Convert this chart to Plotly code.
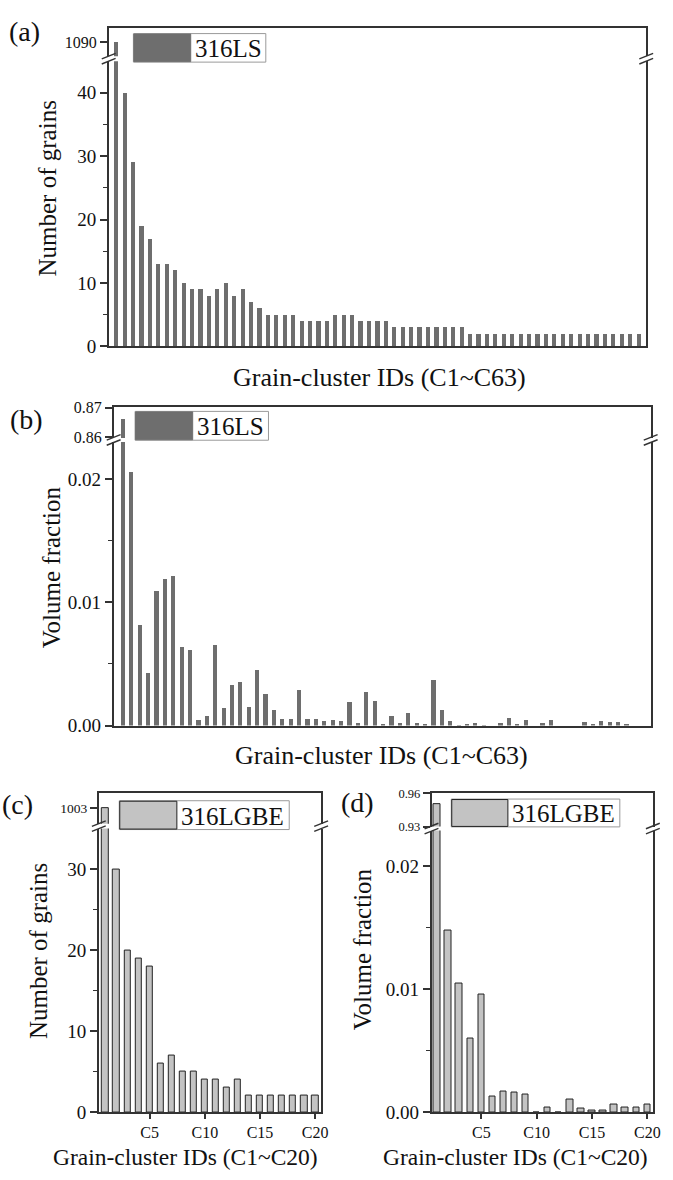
import plotly.graph_objects as go

W, H = 673, 1180

# ---------------- data ----------------
cluster_ls = list(range(1, 64))      # C1 ~ C63 (316LS)
grains_ls = [1090, 40, 29, 19, 17, 13, 13, 12, 10, 9, 9, 8, 9, 10, 8, 9, 7, 6,
             5, 5, 5, 5, 4, 4, 4, 4, 5, 5, 5, 4, 4, 4, 4,
             3, 3, 3, 3, 3, 3, 3, 3, 3,
             2, 2, 2, 2, 2, 2, 2, 2, 2, 2, 2, 2, 2, 2, 2, 2, 2, 2, 2, 2, 2]
vol_ls = [0.866, 0.0206, 0.0082, 0.0043, 0.0109, 0.0119, 0.0121, 0.0064, 0.0061, 0.00045,
          0.0008, 0.0065, 0.0014, 0.0033, 0.0035, 0.0015, 0.0045, 0.0026, 0.0013, 0.0005,
          0.0005, 0.0029, 0.0005, 0.0005, 0.00034, 0.00045, 0.0004, 0.0019, 0.0002, 0.0027,
          0.0020, 0.0001, 0.0008, 0.00024, 0.00105, 0.0002, 0.00008, 0.0037, 0.0013, 0.00035,
          0.00003, 0.00008, 0.0002, 0.00005, 0.0, 0.0002, 0.00064, 0.00008, 0.00048, 0.0,
          0.0002, 0.00042, 0.0, 0.0, 0.0, 0.00032, 0.0001, 0.00035, 0.00032, 0.00032,
          0.00008, 0.0, 0.0]

cluster_lgbe = list(range(1, 21))    # C1 ~ C20 (316LGBE)
grains_lgbe = [1003, 30, 20, 19, 18, 6, 7, 5, 5, 4, 4, 3, 4, 2, 2, 2, 2, 2, 2, 2]
vol_lgbe = [0.95, 0.0148, 0.0105, 0.0060, 0.0096, 0.0013, 0.0017, 0.0016, 0.0014, 0.0,
            0.0004, 0.0, 0.0010, 0.0003, 0.00013, 0.0001, 0.0006, 0.00042, 0.00037, 0.0006]

x_tickvals_lgbe = [5, 10, 15, 20]
x_ticktext_lgbe = ["C5", "C10", "C15", "C20"]

FONT = "Liberation Serif, Times New Roman, serif"
AX = "#333333"
DARK_BAR = "#6e6e6e"
LIGHT_BAR = "#c3c3c3"


def px_x(v):
    return v / W


def px_y(v):
    return 1 - v / H


def xdom(a, b):
    return [a / W, b / W]


def ydom(top, bottom):
    return [1 - bottom / H, 1 - top / H]


panels = [
    dict(label="(a)", x=cluster_ls, y=grains_ls, color=DARK_BAR, outline=0,
         xpx=(110, 654), up=(20, 49), lo=(54, 344), xr=[0.14, 63.94],
         upr=[1081, 1099], upt=[1090], upfmt="d", upfs=16,
         lor=[0, 45], lot=[0, 10, 20, 30, 40], lominor=[5, 15, 25, 35], lofmt="d",
         width=0.5, xticks=False,
         ytitle="Number of grains", xtitle="Grain-cluster IDs (C1~C63)",
         ytpos=(48, 183), xtpos=(384, 376), xtanchor="middle", xtfs=26, lblpos=(9, 24),
         leg=(135, 269, 26, 55, 193), legtext="316LS", legborder=False),
    dict(label="(b)", x=cluster_ls, y=vol_ls, color=DARK_BAR, outline=0,
         xpx=(115, 658.5), up=(406, 437), lo=(441, 729.3), xr=[-0.06, 63.93],
         upr=[0.8597, 0.87005], upt=[0.86, 0.87], upfmt=".2f", upfs=16,
         lor=[0, 0.023], lot=[0, 0.01, 0.02], lominor=[0.005, 0.015], lofmt=".2f",
         width=0.5, xticks=False,
         ytitle="Volume fraction", xtitle="Grain-cluster IDs (C1~C63)",
         ytpos=(52, 568), xtpos=(386, 760), xtanchor="middle", xtfs=26, lblpos=(10, 418),
         leg=(136.7, 271.7, 410, 439.3, 195), legtext="316LS", legborder=False),
    dict(label="(c)", x=cluster_lgbe, y=grains_lgbe, color=LIGHT_BAR, outline=1,
         xpx=(100, 325), up=(798, 829), lo=(834, 1122.3), xr=[0.4, 20.54],
         upr=[995.5, 1010], upt=[1003], upfmt="d", upfs=13.5,
         lor=[0, 35], lot=[0, 10, 20, 30], lominor=[5, 15, 25], lofmt="d",
         width=0.58, xticks=True,
         ytitle="Number of grains", xtitle="Grain-cluster IDs (C1~C20)",
         ytpos=(39, 959), xtpos=(188, 1181.5), xtanchor="bottom", xtfs=23.5, lblpos=(2, 810),
         leg=(120.7, 292.7, 805.7, 835, 179), legtext="316LGBE", legborder=True),
    dict(label="(d)", x=cluster_lgbe, y=vol_lgbe, color=LIGHT_BAR, outline=1,
         xpx=(436.7, 660.7), up=(798, 832), lo=(836, 1122.3), xr=[0.5, 20.5],
         upr=[0.93, 0.96005], upt=[0.93, 0.96], upfmt=".2f", upfs=12.5,
         lor=[0, 0.0229], lot=[0, 0.01, 0.02], lominor=[0.005, 0.015], lofmt=".2f",
         width=0.58, xticks=True,
         ytitle="Volume fraction", xtitle="Grain-cluster IDs (C1~C20)",
         ytpos=(367, 957), xtpos=(522, 1181.5), xtanchor="bottom", xtfs=23.5, lblpos=(345, 807),
         leg=(456.7, 627.3, 804, 832.3, 514), legtext="316LGBE", legborder=True),
]

fig = go.Figure()
layout = dict(width=W, height=H, margin=dict(l=0, r=0, t=0, b=0),
              paper_bgcolor="white", plot_bgcolor="white", showlegend=False,
              font=dict(family=FONT, color="#111111"),
              bargap=0)
shapes = []
annotations = []


def ann(text, x, y, size, angle=0, xanchor="center", yanchor="middle"):
    annotations.append(dict(text=text, x=px_x(x), y=px_y(y), xref="paper", yref="paper",
                            showarrow=False, textangle=angle, xanchor=xanchor,
                            yanchor=yanchor, borderpad=0, borderwidth=0,
                            font=dict(size=size, family=FONT, color="#111111")))


def brk(xc, yc):
    for d in (-2.6, 2.6):
        shapes.append(dict(type="line", xref="paper", yref="paper",
                           x0=px_x(xc - 7), y0=px_y(yc + d + 2.8),
                           x1=px_x(xc + 7), y1=px_y(yc + d - 2.8),
                           line=dict(color=AX, width=1.4), layer="above"))


ax_i = 1
for p in panels:
    lo_i, up_i = ax_i, ax_i + 1
    ax_i += 2
    lo_x = "x" if lo_i == 1 else f"x{lo_i}"
    lo_y = "y" if lo_i == 1 else f"y{lo_i}"
    up_x, up_y = f"x{up_i}", f"y{up_i}"
    mline = dict(color="#222222", width=p["outline"])
    for xa, ya in ((lo_x, lo_y), (up_x, up_y)):
        fig.add_trace(go.Bar(x=p["x"], y=p["y"], xaxis=xa, yaxis=ya, width=p["width"],
                             marker=dict(color=p["color"], line=mline)))
    key_lo_x = "xaxis" if lo_i == 1 else f"xaxis{lo_i}"
    key_lo_y = "yaxis" if lo_i == 1 else f"yaxis{lo_i}"
    key_up_x, key_up_y = f"xaxis{up_i}", f"yaxis{up_i}"
    xd = xdom(*p["xpx"])
    # lower x axis
    xa_lo = dict(domain=xd, anchor=lo_y, range=p["xr"], showline=True, linecolor=AX,
                 linewidth=1.5, mirror=False, showgrid=False, zeroline=False)
    if p["xticks"]:
        xa_lo.update(ticks="outside", ticklen=5, tickwidth=1.5, tickcolor=AX,
                     tickvals=x_tickvals_lgbe, ticktext=x_ticktext_lgbe,
                     ticklabelstandoff=0,
                     tickfont=dict(size=16, family=FONT, color="#111111"))
    else:
        xa_lo.update(ticks="", showticklabels=False)
    layout[key_lo_x] = xa_lo
    # upper x axis (top frame line)
    layout[key_up_x] = dict(domain=xd, anchor=up_y, range=p["xr"], side="top",
                            showline=True, linecolor=AX, linewidth=1.5, mirror=False,
                            ticks="", showticklabels=False, showgrid=False, zeroline=False)
    # lower y axis
    layout[key_lo_y] = dict(domain=ydom(*p["lo"]), anchor=lo_x, range=p["lor"],
                            showline=True, linecolor=AX, linewidth=1.5, mirror=True,
                            ticks="outside", ticklen=7, tickwidth=1.5, tickcolor=AX,
                            tickvals=p["lot"], tickformat=p["lofmt"],
                            tickfont=dict(size=19, family=FONT, color="#111111"),
                            minor=dict(ticks="outside", ticklen=4, tickwidth=1.2,
                                       tickcolor=AX, tickvals=p["lominor"]),
                            showgrid=False, zeroline=False)
    # upper y axis
    layout[key_up_y] = dict(domain=ydom(*p["up"]), anchor=up_x, range=p["upr"],
                            showline=True, linecolor=AX, linewidth=1.5, mirror=True,
                            ticks="outside", ticklen=7, tickwidth=1.5, tickcolor=AX,
                            tickvals=p["upt"], tickformat=p["upfmt"],
                            tickfont=dict(size=p["upfs"], family=FONT, color="#111111"),
                            showgrid=False, zeroline=False)
    # break marks on both sides
    ybrk = (p["up"][1] + p["lo"][0]) / 2
    brk(p["xpx"][0], ybrk)
    brk(p["xpx"][1], ybrk)
    # legend
    lx0, lx1, ly0, ly1, sw = p["leg"]
    shapes.append(dict(type="rect", xref="paper", yref="paper",
                       x0=px_x(lx0), x1=px_x(lx1), y0=px_y(ly1), y1=px_y(ly0),
                       fillcolor="white", line=dict(color="#9a9a9a", width=1), layer="above"))
    shapes.append(dict(type="rect", xref="paper", yref="paper",
                       x0=px_x(lx0 + 0.5), x1=px_x(sw), y0=px_y(ly1 - 0.5), y1=px_y(ly0 + 0.5),
                       fillcolor=p["color"],
                       line=dict(color="#222222" if p["legborder"] else p["color"], width=1),
                       layer="above"))
    ann(p["legtext"], sw + 4, (ly0 + ly1) / 2 + 1, 25, xanchor="left")
    # titles and label
    ann(p["ytitle"], p["ytpos"][0], p["ytpos"][1], 25, angle=-90)
    ann(p["xtitle"], p["xtpos"][0], p["xtpos"][1], p["xtfs"], yanchor=p["xtanchor"])
    ann(p["label"], p["lblpos"][0], p["lblpos"][1], 28, xanchor="left")

layout["shapes"] = shapes
layout["annotations"] = annotations
fig.update_layout(**layout)
fig.write_html("out.html")
